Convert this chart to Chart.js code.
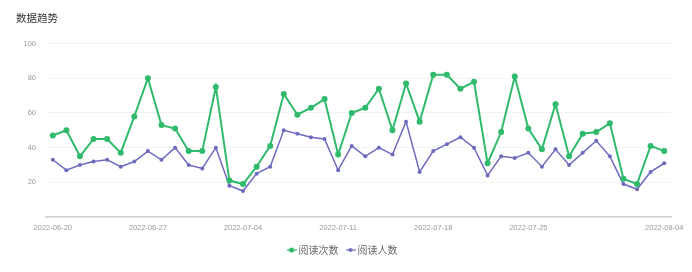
<!DOCTYPE html>
<html>
<head>
<meta charset="utf-8">
<script src="https://cdn.jsdelivr.net/npm/chart.js@4/dist/chart.umd.min.js"></script>
<style>
  html, body { margin: 0; padding: 0; background: #fff; }
  #wrap { width: 692px; height: 272px; }
</style>
</head>
<body>
<div id="wrap"><canvas id="trend" width="692" height="272"></canvas></div>
<script>
// Daily dates on the x axis
const dates = [
  '2022-06-20','2022-06-21','2022-06-22','2022-06-23','2022-06-24','2022-06-25','2022-06-26',
  '2022-06-27','2022-06-28','2022-06-29','2022-06-30','2022-07-01','2022-07-02','2022-07-03',
  '2022-07-04','2022-07-05','2022-07-06','2022-07-07','2022-07-08','2022-07-09','2022-07-10',
  '2022-07-11','2022-07-12','2022-07-13','2022-07-14','2022-07-15','2022-07-16','2022-07-17',
  '2022-07-18','2022-07-19','2022-07-20','2022-07-21','2022-07-22','2022-07-23','2022-07-24',
  '2022-07-25','2022-07-26','2022-07-27','2022-07-28','2022-07-29','2022-07-30','2022-07-31',
  '2022-08-01','2022-08-02','2022-08-03','2022-08-04'
];

// 阅读次数 (page reads)
const readCounts = [
  47, 50, 35, 45, 45, 37, 58, 80, 53, 51, 38, 38, 75, 21,
  19, 29, 41, 71, 59, 63, 68, 36, 60, 63, 74, 50, 77, 55,
  82, 82, 74, 78, 31, 49, 81, 51, 39, 65, 35, 48, 49, 54,
  22, 19, 41, 38
];

// 阅读人数 (unique readers)
const readerCounts = [
  33, 27, 30, 32, 33, 29, 32, 38, 33, 40, 30, 28, 40, 18,
  15, 25, 29, 50, 48, 46, 45, 27, 41, 35, 40, 36, 55, 26,
  38, 42, 46, 40, 24, 35, 34, 37, 29, 39, 30, 37, 44, 35,
  19, 16, 26, 31
];

// Dates that get a label under the axis
const shownDates = ['2022-06-20','2022-06-27','2022-07-04','2022-07-11','2022-07-18','2022-07-25','2022-08-04'];

// Y axis tick values
const yTicks = [20, 40, 60, 80, 100];

const GREEN = '#2fba6c';
const PURPLE = '#6e6bbf';

// Legend marker: a short line with a dot in the middle
function legendMarker(color, r) {
  const c = document.createElement('canvas');
  c.width = 10; c.height = 8;
  const g = c.getContext('2d');
  g.strokeStyle = color;
  g.lineWidth = 1.2;
  g.beginPath(); g.moveTo(0, 4); g.lineTo(10, 4); g.stroke();
  g.fillStyle = color;
  g.beginPath(); g.arc(5, 4, r, 0, Math.PI * 2); g.fill();
  return c;
}
const markers = [legendMarker(GREEN, 2.6), legendMarker(PURPLE, 2)];

new Chart(document.getElementById('trend'), {
  type: 'line',
  data: {
    labels: dates,
    datasets: [
      {
        label: '阅读次数',
        data: readCounts,
        borderColor: GREEN,
        backgroundColor: GREEN,
        borderWidth: 2,
        pointRadius: 3,
        pointBorderWidth: 0,
        pointBackgroundColor: GREEN,
        tension: 0
      },
      {
        label: '阅读人数',
        data: readerCounts,
        borderColor: PURPLE,
        backgroundColor: PURPLE,
        borderWidth: 1.5,
        pointRadius: 2,
        pointBorderWidth: 0,
        pointBackgroundColor: PURPLE,
        tension: 0
      }
    ]
  },
  options: {
    responsive: false,
    animation: false,
    devicePixelRatio: 1,
    layout: { padding: { left: 16, right: 21, top: 0, bottom: 7 } },
    plugins: {
      tooltip: { enabled: false },
      title: {
        display: true,
        text: '数据趋势',
        align: 'start',
        color: '#333',
        font: { family: '"Noto Sans CJK SC", sans-serif', size: 10.5, weight: 'normal' },
        padding: { top: 12, bottom: 19 }
      },
      legend: {
        position: 'bottom',
        labels: {
          color: '#666',
          font: { family: '"Noto Sans CJK SC", sans-serif', size: 10 },
          usePointStyle: true,
          pointStyleWidth: 4,
          padding: 10,
          generateLabels(chart) {
            return chart.data.datasets.map((ds, i) => ({
              text: ds.label,
              fillStyle: ds.borderColor,
              strokeStyle: ds.borderColor,
              fontColor: '#666',
              lineWidth: 0,
              pointStyle: markers[i],
              hidden: !chart.isDatasetVisible(i),
              datasetIndex: i
            }));
          }
        }
      }
    },
    scales: {
      x: {
        offset: true,
        afterFit(scale) { scale.height -= 3; },
        grid: { display: false, drawTicks: false },
        border: { display: true, color: '#cfcfcf', width: 1.5 },
        ticks: {
          autoSkip: false,
          maxRotation: 0,
          minRotation: 0,
          padding: 6,
          color: '#999',
          font: { family: '"Liberation Sans", sans-serif', size: 7.5 },
          callback(value) {
            const d = this.getLabelForValue(value);
            return shownDates.includes(d) ? d : '';
          }
        }
      },
      y: {
        min: 0,
        max: 100,
        afterFit(scale) { scale.width = 30; },
        afterBuildTicks(scale) {
          scale.ticks = [0].concat(yTicks).map(v => ({ value: v }));
        },
        grid: { color: '#f2f2f2', lineWidth: 1, drawTicks: false },
        border: { display: false },
        ticks: {
          padding: 10,
          color: '#999',
          font: { family: '"Liberation Sans", sans-serif', size: 7.5 },
          callback(value) { return value === 0 ? '' : String(value); }
        }
      }
    }
  }
});
</script>
</body>
</html>
